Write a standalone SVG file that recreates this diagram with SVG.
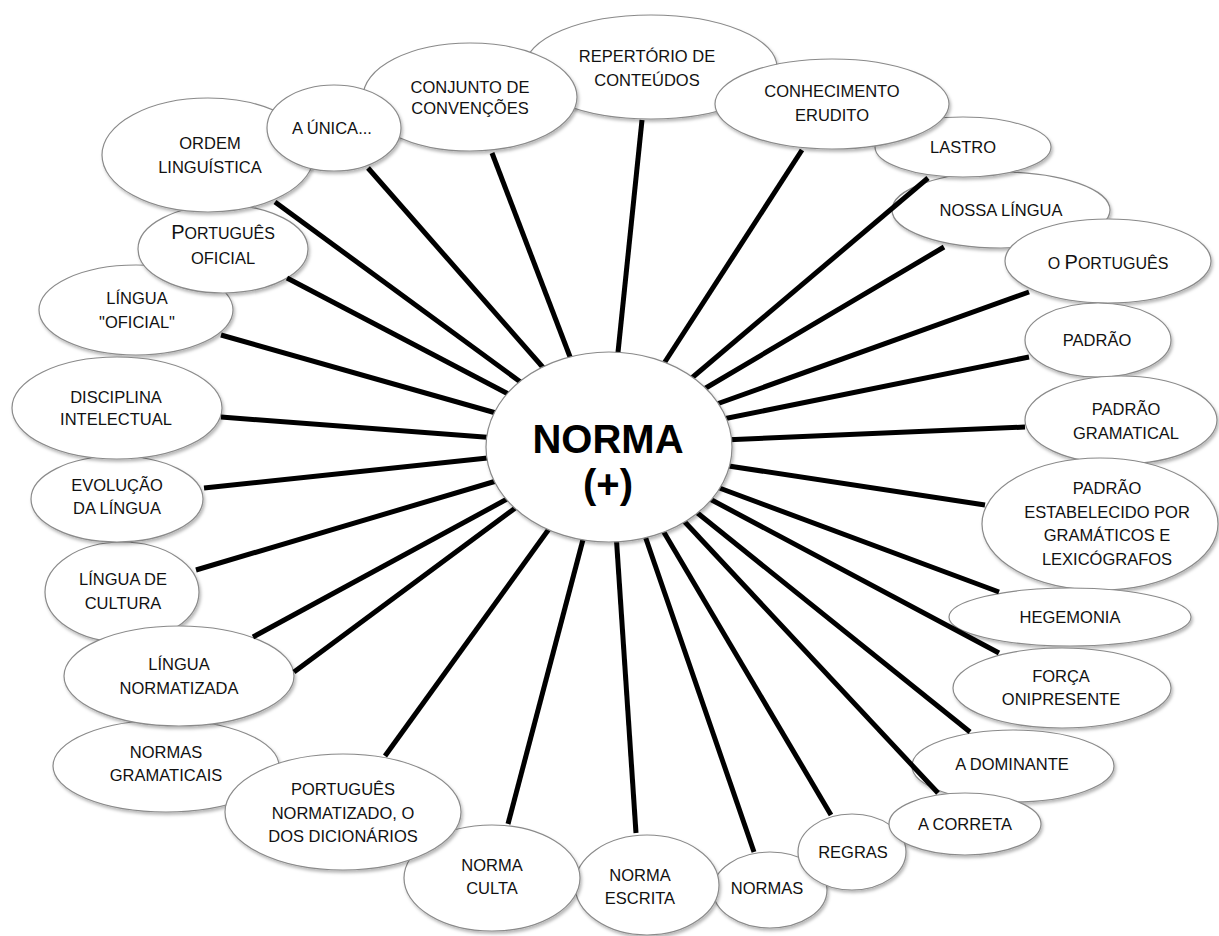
<svg xmlns="http://www.w3.org/2000/svg" width="1219" height="936" viewBox="0 0 1219 936">
<defs>
<filter id="sh" x="-10%" y="-10%" width="125%" height="130%">
<feDropShadow dx="1.5" dy="2.5" stdDeviation="1.8" flood-color="#000" flood-opacity="0.28"/>
</filter>
<style>
.n ellipse{fill:#fff;stroke:#8a8a8a;stroke-width:1.2;filter:url(#sh)}
.n text{font-family:"Liberation Sans",Arial,sans-serif;font-size:16.5px;fill:#111;text-anchor:middle}
.c line{stroke:#000;stroke-width:5;stroke-linecap:butt}
.big{font-size:20px}
.sm{font-size:16px}
#center text{font-family:"Liberation Sans",Arial,sans-serif;font-size:40px;font-weight:bold;fill:#000;text-anchor:middle}
</style>
</defs>
<rect width="1219" height="936" fill="#fff"/>

<g id="n-oficial" class="n"><ellipse cx="136" cy="310" rx="97" ry="45"/><text x="137" y="304">LÍNGUA</text><text x="137" y="328">"OFICIAL"</text></g>
<g id="n-portoficial" class="n"><ellipse cx="223" cy="249" rx="85" ry="44"/><text x="223" y="239"><tspan class="big">P</tspan><tspan class="sm">ORTUGUÊS</tspan></text><text x="223" y="264">OFICIAL</text></g>
<g id="n-ordem" class="n"><ellipse cx="208" cy="155" rx="106" ry="57"/><text x="210" y="149">ORDEM</text><text x="210" y="173">LINGUÍSTICA</text></g>
<g id="n-repertorio" class="n"><ellipse cx="651" cy="67" rx="126" ry="52"/><text x="647" y="62">REPERTÓRIO DE</text><text x="647" y="86">CONTEÚDOS</text></g>
<g id="n-conjunto" class="n"><ellipse cx="470" cy="97" rx="107" ry="54"/><text x="470" y="93">CONJUNTO DE</text><text x="470" y="114">CONVENÇÕES</text></g>
<g id="n-unica" class="n"><ellipse cx="334" cy="128" rx="67" ry="43"/><text x="332" y="134">A ÚNICA...</text></g>
<g id="n-nossa" class="n"><ellipse cx="1001" cy="210" rx="109" ry="38"/><text x="1001" y="216">NOSSA LÍNGUA</text></g>
<g id="n-lastro" class="n"><ellipse cx="963" cy="147" rx="88" ry="30"/><text x="963" y="153">LASTRO</text></g>
<g id="n-conhecimento" class="n"><ellipse cx="832" cy="104" rx="117" ry="45"/><text x="832" y="97">CONHECIMENTO</text><text x="832" y="121">ERUDITO</text></g>
<g id="n-oportugues" class="n"><ellipse cx="1108" cy="261" rx="103" ry="42"/><text x="1108" y="269"><tspan class="sm">O </tspan><tspan class="big">P</tspan><tspan class="sm">ORTUGUÊS</tspan></text></g>
<g id="n-padrao" class="n"><ellipse cx="1098" cy="340" rx="73" ry="37"/><text x="1097" y="346">PADRÃO</text></g>
<g id="n-padraogram" class="n"><ellipse cx="1121" cy="420" rx="96" ry="44"/><text x="1126" y="415">PADRÃO</text><text x="1126" y="439">GRAMATICAL</text></g>
<g id="n-estab" class="n"><ellipse cx="1100" cy="524" rx="118" ry="66"/><text x="1107" y="494">PADRÃO</text><text x="1107" y="518">ESTABELECIDO POR</text><text x="1107" y="541">GRAMÁTICOS E</text><text x="1107" y="565">LEXICÓGRAFOS</text></g>
<g id="n-hegemonia" class="n"><ellipse cx="1070" cy="617" rx="121" ry="29"/><text x="1070" y="623">HEGEMONIA</text></g>
<g id="n-forca" class="n"><ellipse cx="1062" cy="688" rx="109" ry="40"/><text x="1061" y="682">FORÇA</text><text x="1061" y="705">ONIPRESENTE</text></g>
<g id="n-dominante" class="n"><ellipse cx="1013" cy="766" rx="101" ry="36"/><text x="1012" y="770">A DOMINANTE</text></g>
<g id="n-normas" class="n"><ellipse cx="770" cy="890" rx="57" ry="38"/><text x="767" y="894">NORMAS</text></g>
<g id="n-regras" class="n"><ellipse cx="852" cy="852" rx="54" ry="38"/><text x="853" y="858">REGRAS</text></g>
<g id="n-correta" class="n"><ellipse cx="965" cy="824" rx="76" ry="31"/><text x="965" y="830">A CORRETA</text></g>
<g id="n-escrita" class="n"><ellipse cx="647" cy="885" rx="72" ry="50"/><text x="640" y="881">NORMA</text><text x="640" y="904">ESCRITA</text></g>
<g id="n-culta" class="n"><ellipse cx="492" cy="878" rx="88" ry="53"/><text x="492" y="871">NORMA</text><text x="492" y="894">CULTA</text></g>
<g id="n-gramaticais" class="n"><ellipse cx="166" cy="766" rx="113" ry="46"/><text x="166" y="758">NORMAS</text><text x="166" y="781">GRAMATICAIS</text></g>
<g id="n-portnorm" class="n"><ellipse cx="343" cy="812" rx="118" ry="58"/><text x="343" y="795">PORTUGUÊS</text><text x="343" y="819">NORMATIZADO, O</text><text x="343" y="842">DOS DICIONÁRIOS</text></g>
<g id="n-cultura" class="n"><ellipse cx="122" cy="592" rx="77" ry="50"/><text x="123" y="585">LÍNGUA DE</text><text x="123" y="609">CULTURA</text></g>
<g id="n-normatizada" class="n"><ellipse cx="179" cy="676" rx="115" ry="50"/><text x="179" y="670">LÍNGUA</text><text x="179" y="694">NORMATIZADA</text></g>
<g id="n-evolucao" class="n"><ellipse cx="117" cy="499" rx="86" ry="43"/><text x="117" y="491">EVOLUÇÃO</text><text x="117" y="514">DA LÍNGUA</text></g>
<g id="n-disciplina" class="n"><ellipse cx="117" cy="408" rx="105" ry="51"/><text x="116" y="403">DISCIPLINA</text><text x="116" y="425">INTELECTUAL</text></g>

<g id="connectors" class="c">
<line x1="642" y1="120" x2="617" y2="362"/>
<line x1="802" y1="150" x2="661" y2="368"/>
<line x1="928" y1="178" x2="687" y2="382"/>
<line x1="944" y1="247" x2="699" y2="392"/>
<line x1="1029" y1="292" x2="714" y2="405"/>
<line x1="1029" y1="357" x2="718" y2="420"/>
<line x1="1025" y1="427" x2="723" y2="440"/>
<line x1="985" y1="505" x2="722" y2="465"/>
<line x1="999" y1="592" x2="714" y2="486"/>
<line x1="999" y1="653" x2="708" y2="498"/>
<line x1="970" y1="732" x2="695" y2="511"/>
<line x1="938" y1="793" x2="683" y2="520"/>
<line x1="831" y1="815" x2="662" y2="529"/>
<line x1="754" y1="852" x2="644" y2="533"/>
<line x1="636" y1="833" x2="616" y2="533"/>
<line x1="508" y1="824" x2="585" y2="532"/>
<line x1="385" y1="756" x2="554" y2="522"/>
<line x1="294" y1="672" x2="518" y2="506"/>
<line x1="253" y1="637" x2="509" y2="498"/>
<line x1="196" y1="570" x2="503" y2="479"/>
<line x1="204" y1="488" x2="497" y2="457"/>
<line x1="221" y1="417" x2="497" y2="438"/>
<line x1="221" y1="335" x2="503" y2="415"/>
<line x1="287" y1="278" x2="514" y2="397"/>
<line x1="275" y1="202" x2="526" y2="386"/>
<line x1="368" y1="168" x2="547" y2="372"/>
<line x1="492" y1="153" x2="572" y2="362"/>
</g>

<g id="center" class="n"><ellipse cx="609" cy="447" rx="123" ry="95"/><text x="608" y="453">NORMA</text><text x="608" y="498">(+)</text></g>
</svg>
